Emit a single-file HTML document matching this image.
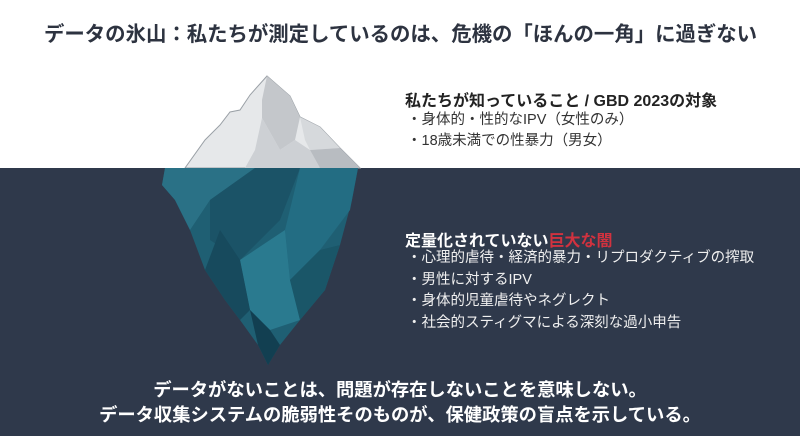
<!DOCTYPE html>
<html><head><meta charset="utf-8"><style>
body{margin:0;width:800px;height:436px;overflow:hidden;font-family:"Liberation Sans","Noto Sans CJK JP",sans-serif;}
.wrap{position:relative;width:800px;height:436px;background:#fff;}
.sea{position:absolute;left:0;top:168px;width:800px;height:268px;background:#2f394b;}
.t{position:absolute;white-space:nowrap;}
</style></head><body><div class="wrap">
<div class="sea"></div>
<svg width="800" height="436" style="position:absolute;left:0;top:0">
<polygon points="267,76 290,96 300,117 320,127 340,148 360,168 185,168 205,140 220,125 230,112 240,110 250,95" fill="#e6e8ea" stroke="#9aa0a6" stroke-width="1"/>
<polygon points="267,76 290,96 300,117 295,140 280,150 262,118 262,100" fill="#c4c7cb"/>
<polygon points="300,117 320,127 340,148 310,150 305,140" fill="#d6d9dc"/>
<polygon points="262,118 280,150 295,140 310,150 320,168 245,168 255,150" fill="#cdd0d4"/>
<polygon points="340,148 360,168 320,168 310,150" fill="#b8bcc1"/>
<polygon points="165,168 358,168 352,200 340,245 325,290 300,320 280,345 268,365 258,345 240,320 225,300 205,270 190,230 175,200 162,185" fill="#1f5f73"/>
<polygon points="165,168 255,168 210,200 190,230 175,200 162,185" fill="#2a7186"/>
<polygon points="255,168 300,168 280,220 240,260 210,240 210,200" fill="#1b5367"/>
<polygon points="300,168 358,168 350,210 320,250 290,280 285,230" fill="#236d83"/>
<polygon points="240,260 285,230 290,280 300,320 270,330 250,310" fill="#2a7a8f"/>
<polygon points="220,230 240,260 250,310 240,320 225,300 205,270" fill="#174a5d"/>
<polygon points="250,310 270,330 280,345 268,365 258,345" fill="#123f51"/>
<polygon points="320,250 340,245 325,290 300,320 290,280" fill="#1a5668"/>
</svg>
<div class="t" style="left:44px;top:17px;font-size:20.4px;font-weight:bold;color:#2d3340;">データの氷山：私たちが測定しているのは、危機の「ほんの一角」に過ぎない</div>
<div class="t" style="left:405px;top:87px;font-size:16px;font-weight:bold;color:#222;">私たちが知っていること / GBD 2023の対象</div>
<div class="t" style="left:407px;top:110px;font-size:14.5px;color:#333;line-height:21px;">・身体的・性的なIPV（女性のみ）<br>・18歳未満での性暴力（男女）</div>
<div class="t" style="left:405px;top:227px;font-size:16px;font-weight:bold;color:#fff;">定量化されていない<span style="color:#d1323f">巨大な闇</span></div>
<div class="t" style="left:407px;top:248px;font-size:14.5px;color:#f0f0f0;line-height:21.5px;">・心理的虐待・経済的暴力・リプロダクティブの搾取<br>・男性に対するIPV<br>・身体的児童虐待やネグレクト<br>・社会的スティグマによる深刻な過小申告</div>
<div class="t" style="left:0;width:800px;text-align:center;top:377px;font-size:18.3px;font-weight:bold;color:#fff;line-height:25px;">データがないことは、問題が存在しないことを意味しない。<br>データ収集システムの脆弱性そのものが、保健政策の盲点を示している。</div>
</div></body></html>
